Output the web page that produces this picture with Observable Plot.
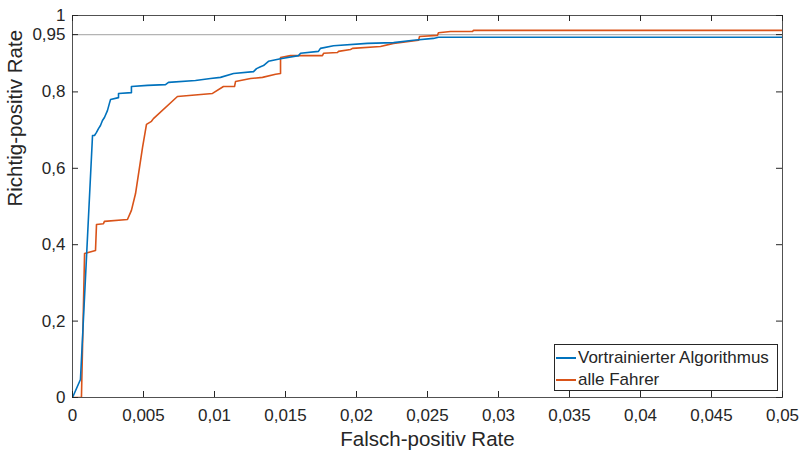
<!DOCTYPE html>
<html>
<head>
<meta charset="utf-8">
<script src="https://cdn.jsdelivr.net/npm/d3@7"></script>
<script src="https://cdn.jsdelivr.net/npm/@observablehq/plot@0.6"></script>
<style>
  html, body { margin: 0; padding: 0; background: #fff; }
  #wrap { position: relative; width: 805px; height: 452px; font-family: "Liberation Sans", Arial, sans-serif; }
  #legend { position: absolute; left: 554px; top: 344px; width: 224px; height: 47px; border: 1px solid #262626; background: #fff; box-sizing: border-box; font-size: 17px; color: #262626; }
  .row { position: absolute; left: 0; height: 22px; display: flex; align-items: center; white-space: nowrap; }
  .sw { width: 20px; height: 2px; margin-left: 1px; margin-right: 2px; }
</style>
</head>
<body>
<div id="wrap"></div>
<script>
const series = ["Vortrainierter Algorithmus", "alle Fahrer"];
const colors = ["#0072BD", "#D95319"];

const blueFPR = [0, 0.00056, 0.00141, 0.00155, 0.00169, 0.00183, 0.00197, 0.00211, 0.00225, 0.00246, 0.0026, 0.00268, 0.00324, 0.00324, 0.00415, 0.00415, 0.00528, 0.00655, 0.00676, 0.00866, 0.00972, 0.01042, 0.01134, 0.01275, 0.01296, 0.01324, 0.01345, 0.0138, 0.01465, 0.01592, 0.01606, 0.01732, 0.01746, 0.01838, 0.02077, 0.02261, 0.02401, 0.02542, 0.02577, 0.05];
const blueTPR = [0, 0.047, 0.686, 0.686, 0.694, 0.704, 0.712, 0.725, 0.733, 0.751, 0.770, 0.780, 0.785, 0.796, 0.798, 0.814, 0.817, 0.819, 0.825, 0.830, 0.835, 0.838, 0.848, 0.853, 0.861, 0.866, 0.869, 0.880, 0.887, 0.895, 0.901, 0.906, 0.914, 0.921, 0.927, 0.929, 0.935, 0.940, 0.943, 0.943];

const orangeFPR = [0, 0.00063, 0.00085, 0.00162, 0.00169, 0.00218, 0.00225, 0.00387, 0.00415, 0.00444, 0.00493, 0.00521, 0.00556, 0.0057, 0.00739, 0.00986, 0.01063, 0.01141, 0.01148, 0.01254, 0.01338, 0.0143, 0.01465, 0.01465, 0.01535, 0.0176, 0.01768, 0.01866, 0.01873, 0.01958, 0.01972, 0.02169, 0.02261, 0.02437, 0.02444, 0.0257, 0.02577, 0.02662, 0.02817, 0.02824, 0.05];
const orangeTPR = [0, 0, 0.377, 0.385, 0.453, 0.455, 0.461, 0.466, 0.490, 0.534, 0.654, 0.715, 0.723, 0.730, 0.788, 0.796, 0.814, 0.814, 0.827, 0.835, 0.838, 0.846, 0.848, 0.890, 0.895, 0.895, 0.901, 0.903, 0.906, 0.911, 0.914, 0.919, 0.927, 0.935, 0.945, 0.948, 0.955, 0.958, 0.958, 0.961, 0.961];

const xTicks = [0, 0.005, 0.01, 0.015, 0.02, 0.025, 0.03, 0.035, 0.04, 0.045, 0.05];
const xTickLabels = ["0", "0,005", "0,01", "0,015", "0,02", "0,025", "0,03", "0,035", "0,04", "0,045", "0,05"];
const yTicks = [0, 0.2, 0.4, 0.6, 0.8, 0.95, 1];
const yTickLabels = ["0", "0,2", "0,4", "0,6", "0,8", "0,95", "1"];
const refLine = [0.95];
const xLabel = "Falsch-positiv Rate";
const yLabel = "Richtig-positiv Rate";

const blue = blueFPR.map((x, i) => ({x, y: blueTPR[i], s: series[0]}));
const orange = orangeFPR.map((x, i) => ({x, y: orangeTPR[i], s: series[1]}));

const W = 805, H = 452, mL = 72, mR = 23, mT = 15, mB = 55;
const innerW = W - mL - mR, innerH = H - mT - mB, tk = 6;
const axisColor = "#262626";

const chart = Plot.plot({
  width: W, height: H,
  marginLeft: mL, marginRight: mR, marginTop: mT, marginBottom: mB,
  style: {fontFamily: "'Liberation Sans', Arial, sans-serif", fontSize: "17px", color: axisColor, background: "#fff"},
  x: {domain: [0, 0.05]},
  y: {domain: [0, 1]},
  marks: [
    Plot.ruleY(refLine, {stroke: "#b4b4b4", strokeWidth: 1.2}),
    Plot.line(orange, {x: "x", y: "y", stroke: colors[1], strokeWidth: 1.6, clip: true}),
    Plot.line(blue, {x: "x", y: "y", stroke: colors[0], strokeWidth: 1.6, clip: true}),
    Plot.frame({stroke: axisColor, strokeWidth: 1, strokeOpacity: 0.8}),
    Plot.tickX(xTicks, {x: d => d, stroke: axisColor, insetTop: innerH - tk}),
    Plot.tickX(xTicks, {x: d => d, stroke: axisColor, insetBottom: innerH - tk}),
    Plot.tickY(yTicks, {y: d => d, stroke: axisColor, insetRight: innerW - tk}),
    Plot.tickY(yTicks, {y: d => d, stroke: axisColor, insetLeft: innerW - tk}),
    Plot.axisX({ticks: xTicks, tickFormat: (d, i) => xTickLabels[i], tickSize: 0, tickPadding: 11, label: null, letterSpacing: "0.4px"}),
    Plot.axisY({ticks: yTicks, tickFormat: (d, i) => yTickLabels[i], tickSize: 0, tickPadding: 7, label: null}),
    Plot.text([xLabel], {text: d => d, frameAnchor: "bottom", dy: 48, fontSize: 20.5, fill: axisColor}),
    Plot.text([yLabel], {text: d => d, frameAnchor: "left", rotate: -90, dx: -57, fontSize: 20.5, fill: axisColor})
  ]
});

const wrap = document.getElementById("wrap");
wrap.appendChild(chart);

const legend = document.createElement("div");
legend.id = "legend";
series.forEach((name, i) => {
  const row = document.createElement("div");
  row.className = "row";
  row.style.top = (i === 0 ? 2 : 24) + "px";
  const sw = document.createElement("div");
  sw.className = "sw";
  sw.style.background = colors[i];
  const t = document.createElement("span");
  t.textContent = name;
  row.appendChild(sw);
  row.appendChild(t);
  legend.appendChild(row);
});
wrap.appendChild(legend);
</script>
</body>
</html>
